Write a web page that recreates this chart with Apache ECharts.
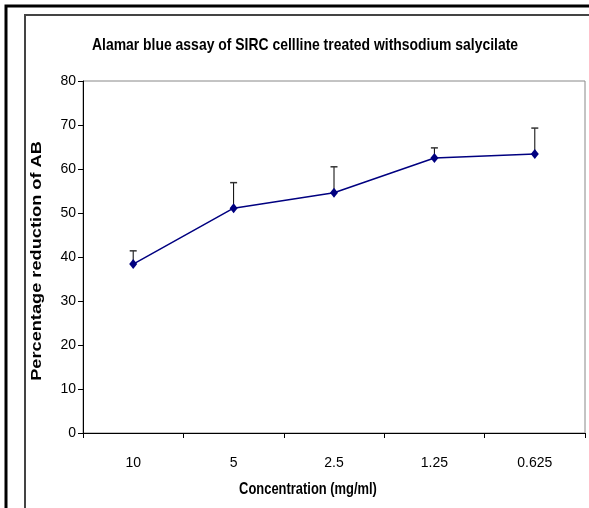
<!DOCTYPE html>
<html>
<head>
<meta charset="utf-8">
<script src="https://cdn.jsdelivr.net/npm/echarts@6/dist/echarts.min.js"></script>
<style>
  html, body { margin: 0; padding: 0; background: #fff; }
  #chart { width: 589px; height: 508px; }
</style>
</head>
<body>
<div id="chart"></div>
<script>
// Data
const concentrations = ['10', '5', '2.5', '1.25', '0.625'];
const reduction = [38.4, 51.1, 54.6, 62.5, 63.4];
const errorTop = [41.4, 56.9, 60.5, 64.8, 69.3];

const NARROW = '"Liberation Sans Narrow", "Arial Narrow", "Liberation Sans", sans-serif';
const BOLD = 'bold 17px "Liberation Sans", Arial, sans-serif';

const chart = echarts.init(document.getElementById('chart'), null, { renderer: 'canvas' });

const option = {
    animation: false,
    backgroundColor: '#fff',
    graphic: [
        { type: 'rect', shape: { x: 6, y: 6, width: 600, height: 520 }, style: { fill: 'none', stroke: '#000', lineWidth: 3 } },
        { type: 'rect', shape: { x: 25, y: 15, width: 600, height: 520 }, style: { fill: 'none', stroke: '#444', lineWidth: 2 } },
        {
            // condensed title (no narrow font installed, so squeeze it)
            type: 'text', x: 305, y: 45, scaleX: 0.82,
            style: {
                text: 'Alamar blue assay of SIRC cellline treated withsodium salycilate',
                font: BOLD, fill: '#000', align: 'center', verticalAlign: 'middle'
            }
        },
        {
            type: 'text', x: 308, y: 489, scaleX: 0.76,
            style: {
                text: 'Concentration (mg/ml)',
                font: BOLD, fill: '#000', align: 'center', verticalAlign: 'middle'
            }
        },
        {
            // y axis title, spaced out like the original
            type: 'text', x: 37, y: 261, rotation: Math.PI / 2, scaleX: 1.3,
            style: {
                text: 'Percentage reduction of AB',
                font: 'bold 14px "Liberation Sans", Arial, sans-serif',
                fill: '#000', align: 'center', verticalAlign: 'middle'
            }
        }
    ],
    grid: {
        left: 83, top: 81, width: 502, height: 352,
        show: true, borderColor: '#888', borderWidth: 1
    },
    xAxis: {
        type: 'category',
        data: concentrations,
        boundaryGap: true,
        axisLine: { lineStyle: { color: '#000', width: 1 } },
        axisTick: { show: true, length: 5, alignWithLabel: false, lineStyle: { color: '#000' } },
        axisLabel: { fontFamily: NARROW, fontSize: 14, color: '#000', margin: 23 },
        splitLine: { show: false }
    },
    yAxis: {
        type: 'value',
        min: 0, max: 80, interval: 10,
        axisLine: { show: true, lineStyle: { color: '#000', width: 1 } },
        axisTick: { show: true, length: 5, lineStyle: { color: '#000' } },
        axisLabel: { fontFamily: NARROW, fontSize: 14, color: '#000', margin: 7 },
        splitLine: { show: false }
    },
    series: [
        {
            type: 'custom',
            data: reduction.map((v, i) => [i, v, errorTop[i]]),
            z: 1,
            renderItem: function (params, api) {
                const bottom = api.coord([api.value(0), api.value(1)]);
                const top = api.coord([api.value(0), api.value(2)]);
                return {
                    type: 'group',
                    children: [
                        { type: 'line', shape: { x1: bottom[0], y1: bottom[1], x2: top[0], y2: top[1] }, style: { stroke: '#000', lineWidth: 1 } },
                        { type: 'line', shape: { x1: top[0] - 3.5, y1: top[1], x2: top[0] + 3.5, y2: top[1] }, style: { stroke: '#333', lineWidth: 1.5 } }
                    ]
                };
            }
        },
        {
            type: 'line',
            data: reduction,
            z: 3,
            symbol: 'diamond',
            symbolSize: [8, 10],
            itemStyle: { color: '#000080' },
            lineStyle: { color: '#000080', width: 1.5 }
        }
    ]
};

chart.setOption(option);
</script>
</body>
</html>
